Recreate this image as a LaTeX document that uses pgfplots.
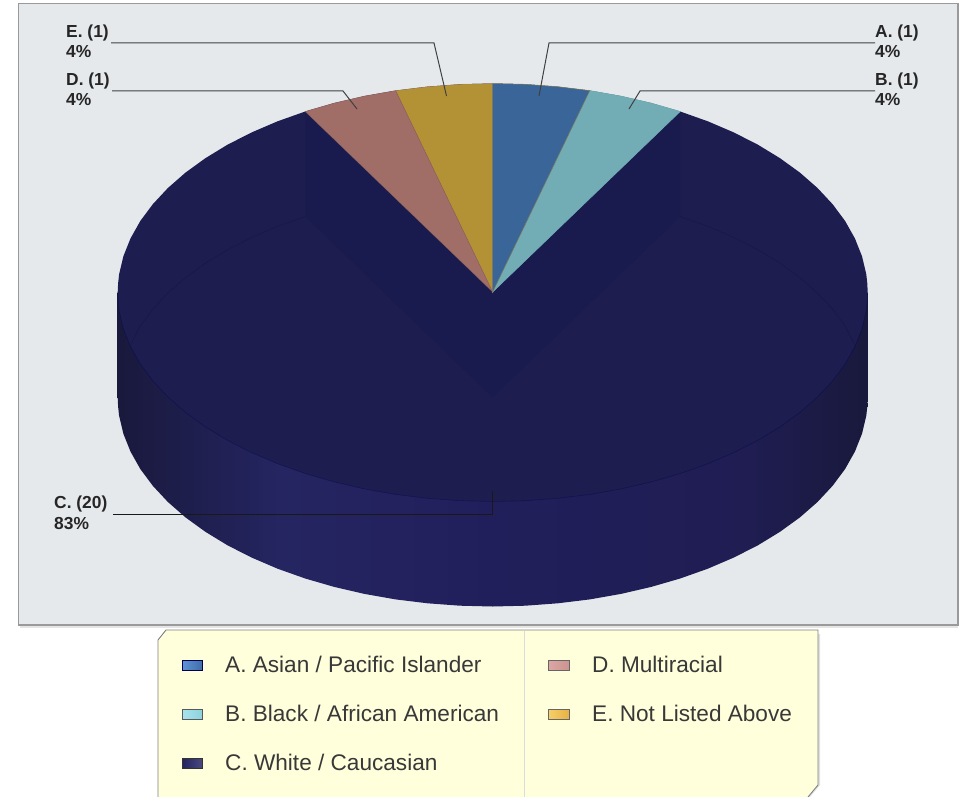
\documentclass[border=0pt]{standalone}
\usepackage{pgfplots}
\pgfplotsset{compat=1.18}
\usepackage{fontspec}
\setmainfont{Liberation Sans}
\definecolor{panel}{HTML}{E6E9EC}
\definecolor{panelb}{HTML}{9A9A9A}
\definecolor{topC}{HTML}{1D1D50}
\definecolor{cutC}{HTML}{191A4D}
\definecolor{colA}{HTML}{3A6598}
\definecolor{colB}{HTML}{72ADB6}
\definecolor{colD}{HTML}{A06E66}
\definecolor{colE}{HTML}{B39236}
\definecolor{sa}{HTML}{19193D}
\definecolor{sb}{HTML}{252562}
\definecolor{sc}{HTML}{211F5B}
\definecolor{sd}{HTML}{1F1D52}
\definecolor{se}{HTML}{19193C}
\definecolor{legbg}{HTML}{FFFFDC}
\definecolor{swAl}{HTML}{5E95D8}
\definecolor{swAr}{HTML}{3F6CA8}
\definecolor{swBl}{HTML}{A9E3EC}
\definecolor{swBr}{HTML}{8CD2DE}
\definecolor{swCl}{HTML}{24245E}
\definecolor{swCr}{HTML}{4A4A80}
\definecolor{swDl}{HTML}{DBA6A4}
\definecolor{swDr}{HTML}{CC9490}
\definecolor{swEl}{HTML}{F5CF68}
\definecolor{swEr}{HTML}{E8B247}
\pgfdeclarehorizontalshading{sideshade}{100bp}{color(0bp)=(sa); color(25bp)=(sa); color(36bp)=(sb); color(50bp)=(sc); color(67bp)=(sd); color(75bp)=(se); color(100bp)=(se)}
\newcommand{\lab}[3]{\node[anchor=base west,inner sep=0pt,font=\fontsize{17.4}{20}\selectfont\bfseries,text=black!85] at (axis cs:#1,#2) {#3};}
\newcommand{\leg}[3]{\node[anchor=base west,inner sep=0pt,font=\fontsize{22.6}{26}\selectfont,text=black!78] at (axis cs:#1,#2) {#3};}
\begin{document}
\begin{tikzpicture}
\begin{axis}[
  width=963pt,height=797pt,scale only axis,
  xmin=0,xmax=963,ymin=0,ymax=797,y dir=reverse,
  axis lines=none,ticks=none,clip=true]
% page and panel
\addplot[fill=white,draw=none] coordinates {(0,0)(963,0)(963,797)(0,797)} --cycle;
\addplot[fill=black!10,draw=none] coordinates {(20,625)(958,625)(958,628)(20,628)} --cycle;
\addplot[fill=panel,draw=panelb,line width=1.1pt] coordinates {(18.5,3.5)(958,3.5)(958,625)(18.5,625)} --cycle;
% side of the cylinder
\addplot[shading=sideshade,draw=none] coordinates {
(867.7,292.5)(867.7,397.5)(867.3,406.6)(866.3,415.7)(862.0,433.8)(854.9,451.6)(845.1,469.0)(832.6,485.8)(817.5,502.0)(799.9,517.4)(780.0,531.8)(757.9,545.3)(733.7,557.6)(707.8,568.7)(680.2,578.5)(651.2,586.9)(621.0,593.9)(589.8,599.4)(557.8,603.3)(525.4,605.7)(492.7,606.5)
(460.0,605.7)(427.6,603.3)(395.6,599.4)(364.4,593.9)(334.2,586.9)(305.2,578.5)(277.6,568.7)(251.7,557.6)(227.5,545.3)(205.4,531.8)(185.5,517.4)(167.9,502.0)(152.8,485.8)(140.3,469.0)(130.5,451.6)(123.4,433.8)(119.1,415.7)(118.1,406.6)(117.7,397.5)(117.7,292.5)} --cycle;
% top of the pie (C)
\addplot[fill=topC,draw=none] coordinates {
(867.7,292.5)(867.3,301.6)(866.3,310.7)(862.0,328.8)(854.9,346.6)(845.1,364.0)(832.6,380.8)(817.5,397.0)(799.9,412.4)(780.0,426.8)(757.9,440.3)(733.7,452.6)(707.8,463.7)(680.2,473.5)(651.2,481.9)(621.0,488.9)(589.8,494.4)(557.8,498.3)(525.4,500.7)(492.7,501.5)
(460.0,500.7)(427.6,498.3)(395.6,494.4)(364.4,488.9)(334.2,481.9)(305.2,473.5)(277.6,463.7)(251.7,452.6)(227.5,440.3)(205.4,426.8)(185.5,412.4)(167.9,397.0)(152.8,380.8)(140.3,364.0)(130.5,346.6)(123.4,328.8)(119.1,310.7)(118.1,301.6)(117.7,292.5)
(118.1,283.4)(119.1,274.3)(123.4,256.2)(130.5,238.4)(140.3,221.0)(152.8,204.2)(167.9,188.0)(185.5,172.6)(205.4,158.2)(227.5,144.7)(251.7,132.4)(277.6,121.3)(305.2,111.5)(334.2,103.1)(364.4,96.1)(395.6,90.6)(427.6,86.7)(460.0,84.3)(492.7,83.5)
(525.4,84.3)(557.8,86.7)(589.8,90.6)(621.0,96.1)(651.2,103.1)(680.2,111.5)(707.8,121.3)(733.7,132.4)(757.9,144.7)(780.0,158.2)(799.9,172.6)(817.5,188.0)(832.6,204.2)(845.1,221.0)(854.9,238.4)(862.0,256.2)(866.3,274.3)(867.3,283.4)} --cycle;
% front rim of the top
\addplot[draw=black!70!blue,draw opacity=0.35,line width=0.6pt] coordinates {
(867.7,292.5)(866.3,310.7)(862.0,328.8)(854.9,346.6)(845.1,364.0)(832.6,380.8)(817.5,397.0)(799.9,412.4)(780.0,426.8)(757.9,440.3)(733.7,452.6)(707.8,463.7)(680.2,473.5)(651.2,481.9)(621.0,488.9)(589.8,494.4)(557.8,498.3)(525.4,500.7)(492.7,501.5)
(460.0,500.7)(427.6,498.3)(395.6,494.4)(364.4,488.9)(334.2,481.9)(305.2,473.5)(277.6,463.7)(251.7,452.6)(227.5,440.3)(205.4,426.8)(185.5,412.4)(167.9,397.0)(152.8,380.8)(140.3,364.0)(130.5,346.6)(123.4,328.8)(119.1,310.7)(117.7,292.5)};
% back rim of the base, seen through the top
\addplot[draw=black,draw opacity=0.14,line width=0.6pt] coordinates {
(130.5,345)(140.3,326.0)(152.8,309.2)(167.9,293.0)(185.5,277.6)(205.4,263.2)(227.5,249.7)(251.7,237.4)(277.6,226.3)(305.2,216.5)(334.2,208.1)(364.4,201.1)(395.6,195.6)(427.6,191.7)(460.0,189.3)(492.7,188.5)
(525.4,189.3)(557.8,191.7)(589.8,195.6)(621.0,201.1)(651.2,208.1)(680.2,216.5)(707.8,226.3)(733.7,237.4)(757.9,249.7)(780.0,263.2)(799.9,277.6)(817.5,293.0)(832.6,309.2)(845.1,326.0)(854.9,345)};
% inner cut faces seen through the top
\addplot[fill=cutC,draw=none] coordinates {(305.2,111.5)(305.2,216.5)(492.7,397.5)(680.2,216.5)(680.2,111.5)(492.7,292)} --cycle;
% wedges
\addplot[fill=colE,draw=colD,draw opacity=0.5,line width=0.5pt] coordinates {(492.7,292)(395.6,90.6)(427.6,86.7)(460.0,84.3)(492.7,83.5)} --cycle;
\addplot[fill=colD,draw=colD!85!black,draw opacity=0.6,line width=0.5pt] coordinates {(492.7,292)(305.2,111.5)(334.2,103.1)(364.4,96.1)(395.6,90.6)} --cycle;
\addplot[fill=colB,draw=colB,line width=0.5pt] coordinates {(492.7,292)(589.8,90.6)(621.0,96.1)(651.2,103.1)(680.2,111.5)} --cycle;
\addplot[fill=colA,draw=colE!60!colA,line width=0.5pt] coordinates {(492.7,292)(492.7,83.5)(525.4,84.3)(557.8,86.7)(589.8,90.6)} --cycle;
% leader lines
\addplot[draw=black!75,line width=1.0pt] coordinates {(111,43)(434,43)(446.5,96)};
\addplot[draw=black!75,line width=1.0pt] coordinates {(875,43)(549,43)(539,96)};
\addplot[draw=black!75,line width=1.0pt] coordinates {(112,91)(343,91)(357,109)};
\addplot[draw=black!75,line width=1.0pt] coordinates {(875,91)(640,91)(629,109)};
\addplot[draw=black!90,line width=0.9pt] coordinates {(113,514)(492.7,514)(492.7,491)};
% legend panel
\addplot[fill=black!12,draw=none] coordinates {(820,634)(820,785)(810,797)(806,797)(817,785)(817,634)} --cycle;
\addplot[fill=legbg,draw=none] coordinates {(158,640)(166,630)(818,630)(818,785)(808,797)(158,797)} --cycle;
\addplot[draw=black!50,line width=0.9pt] coordinates {(158,797)(158,640)(166,630)(818,630)(818,785)(808,797)};
\addplot[draw=black!14,line width=0.8pt] coordinates {(524.5,630.5)(524.5,797)};
% legend swatches
\addplot[left color=swAl,right color=swAr,draw=black!70!blue,line width=0.8pt] coordinates {(182,660.5)(202.5,660.5)(202.5,670)(182,670)} --cycle;
\addplot[left color=swBl,right color=swBr,draw=black!65,line width=0.8pt] coordinates {(182,709.5)(202.5,709.5)(202.5,719)(182,719)} --cycle;
\addplot[left color=swCl,right color=swCr,draw=black!80,line width=0.8pt] coordinates {(182,758.5)(202.5,758.5)(202.5,768)(182,768)} --cycle;
\addplot[left color=swDl,right color=swDr,draw=black!60,line width=0.8pt] coordinates {(548.5,660.5)(569,660.5)(569,670)(548.5,670)} --cycle;
\addplot[left color=swEl,right color=swEr,draw=black!60,line width=0.8pt] coordinates {(548.5,709.5)(569,709.5)(569,719)(548.5,719)} --cycle;
% labels
\lab{66}{38}{E. (1)}
\lab{66}{58}{4\%}
\lab{66}{86}{D. (1)}
\lab{66}{106}{4\%}
\lab{875}{38}{A. (1)}
\lab{875}{58}{4\%}
\lab{875}{86}{B. (1)}
\lab{875}{106}{4\%}
\lab{54}{508}{C. (20)}
\lab{54}{529}{83\%}
\leg{225}{672}{A. Asian / Pacific Islander}
\leg{225}{721}{B. Black / African American}
\leg{225}{770}{C. White / Caucasian}
\leg{592}{672}{D. Multiracial}
\leg{592}{721}{E. Not Listed Above}
\end{axis}
\end{tikzpicture}
\end{document}
